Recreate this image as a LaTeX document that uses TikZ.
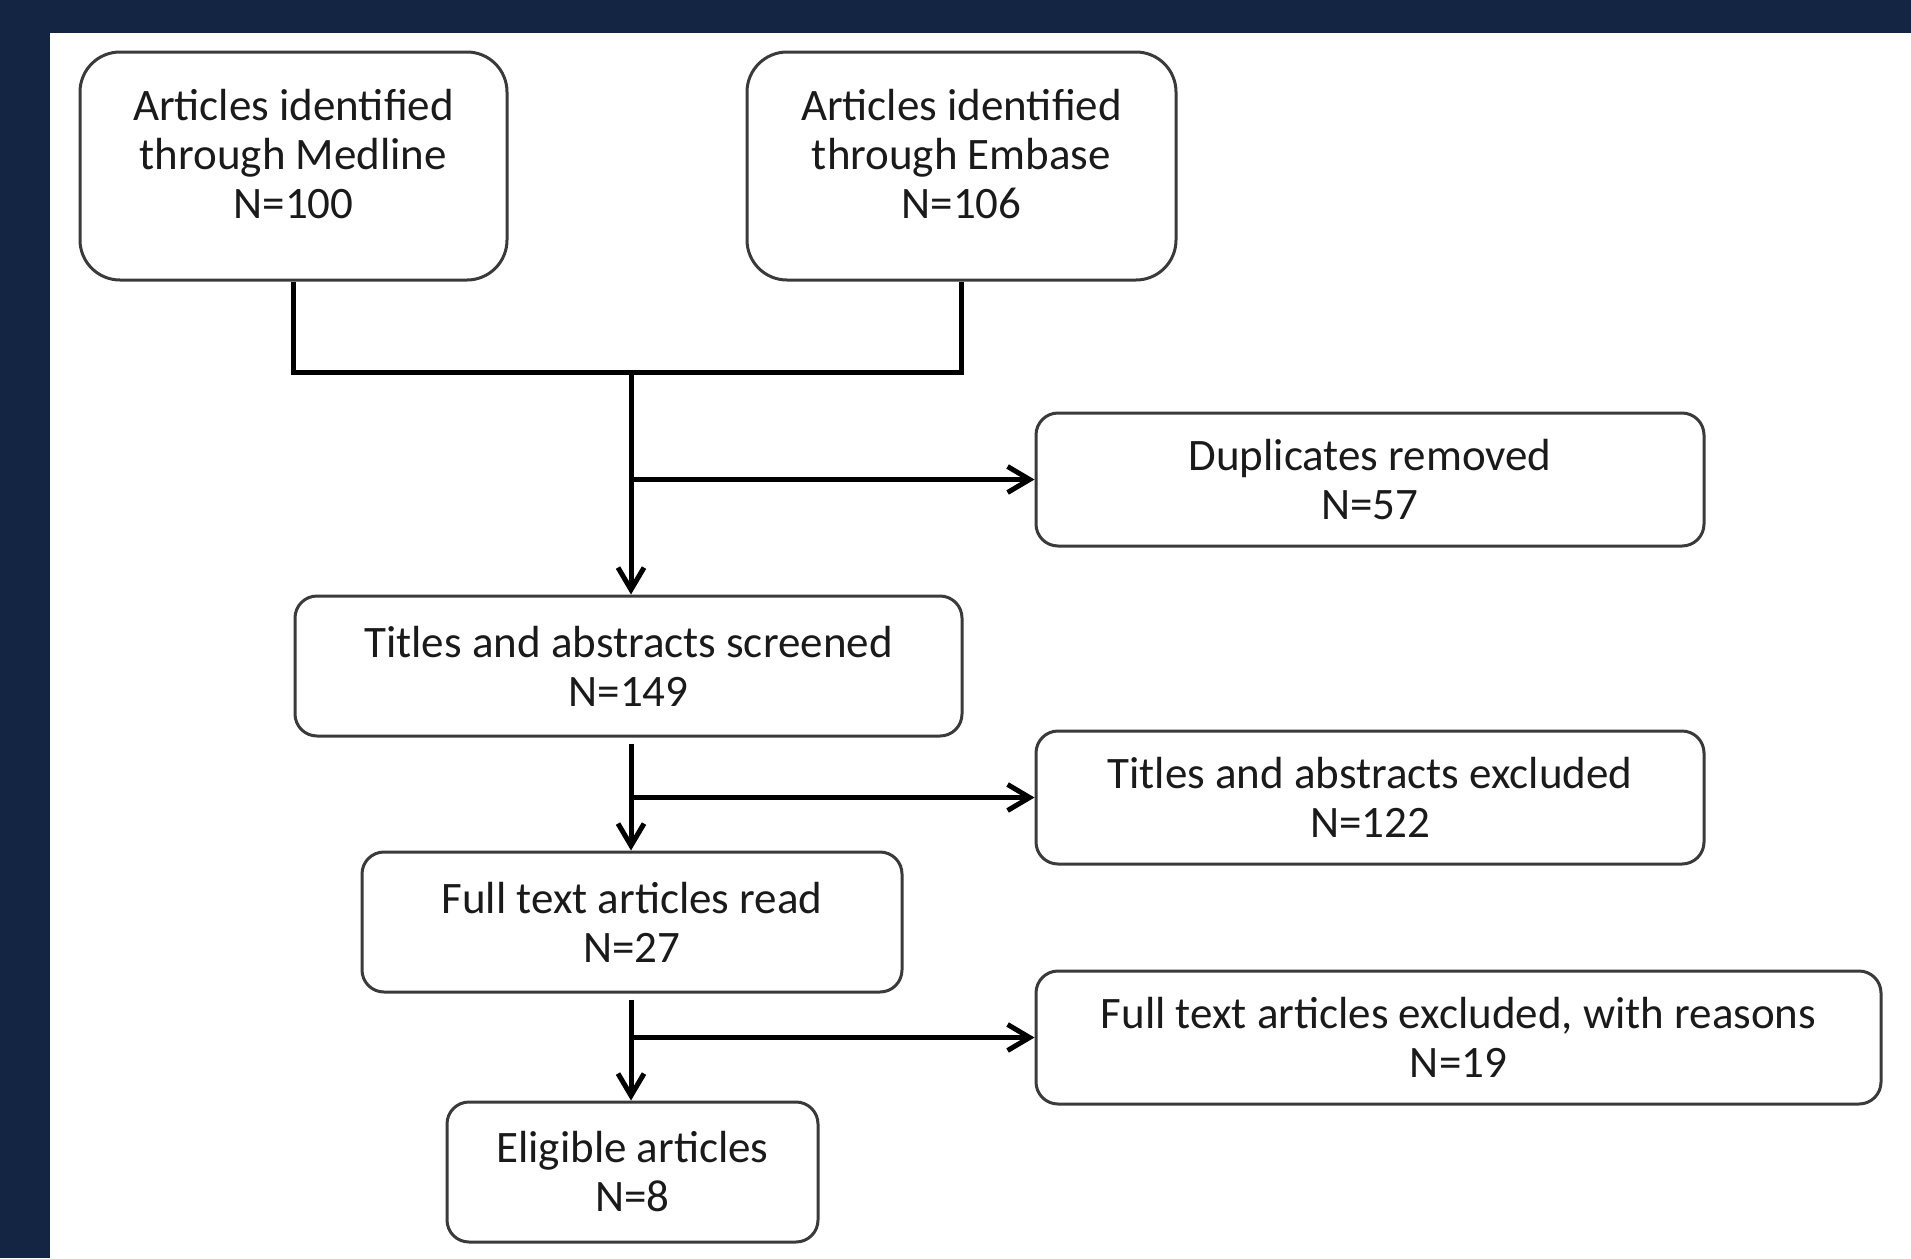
\documentclass[tikz,border=0pt]{standalone}
\usepackage{fontspec}
\setmainfont{Carlito}
\usetikzlibrary{arrows.meta}
\definecolor{navy}{HTML}{132542}
\definecolor{boxline}{HTML}{3A3A3A}
\definecolor{txt}{HTML}{1A1A1A}
\tikzset{
  box/.style={draw=boxline, line width=3pt, rounded corners=22pt, fill=white, inner sep=0pt},
  bigbox/.style={box, rounded corners=40pt},
  label/.style={text=txt, align=center, font=\fontsize{45}{49}\selectfont, inner sep=0pt},
  conn/.style={line width=5pt, black},
  arr/.style={conn, -{Straight Barb[length=22pt,width=26pt,line width=5pt]}},
}
\begin{document}
\begin{tikzpicture}[x=1pt,y=-1pt]
\useasboundingbox (0,0) rectangle (1911,1258);
\fill[navy] (0,0) rectangle (1911,1258);
\fill[white] (50,33) rectangle (1911,1258);

% top boxes
\node[bigbox, minimum width=427pt, minimum height=228pt] (med) at (293.5,166) {};
\node[label] (medt) at (293.5,154) {Articles identified\\through Medline\\N=100};
\node[bigbox, minimum width=429pt, minimum height=228pt] (emb) at (961.5,166) {};
\node[label] (embt) at (961.5,154) {Articles identified\\through Embase\\N=106};

% right boxes
\node[box, label, minimum width=668pt, minimum height=133pt] (dup) at (1370,479.5) {Duplicates removed\\N=57};
\node[box, label, minimum width=668pt, minimum height=133pt] (tex) at (1370,797.5) {Titles and abstracts excluded\\N=122};
\node[box, label, minimum width=845pt, minimum height=133pt] (fex) at (1458.5,1037.5) {Full text articles excluded, with reasons\\N=19};

% main column
\node[box, label, minimum width=667pt, minimum height=140pt] (scr) at (628.5,666) {Titles and abstracts screened\\N=149};
\node[box, label, minimum width=540pt, minimum height=140pt] (ftr) at (632,922) {Full text articles read\\N=27};
\node[box, label, minimum width=371pt, minimum height=140pt] (eli) at (632.5,1172) {Eligible articles\\N=8};

% connectors
\coordinate (join) at (631,372);
\draw[conn] (med.south) |- (join) -| (emb.south);
\draw[arr] (join) -- (join |- scr.north);
\draw[arr] (join |- dup.west) -- (dup.west);
\draw[arr, shorten <=6pt] (scr.south -| join) -- (ftr.north -| join);
\draw[arr] (join |- tex.west) -- (tex.west);
\draw[arr, shorten <=6pt] (ftr.south -| join) -- (eli.north -| join);
\draw[arr] (join |- fex.west) -- (fex.west);
\end{tikzpicture}
\end{document}
